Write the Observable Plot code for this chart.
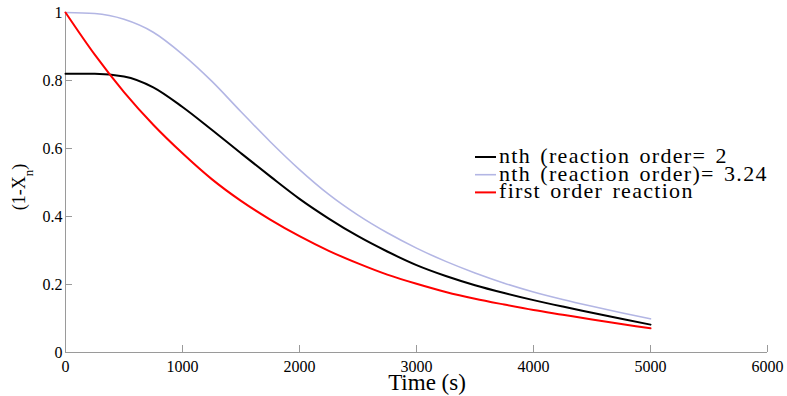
<!DOCTYPE html>
<html><head><meta charset="utf-8">
<script src="https://cdn.jsdelivr.net/npm/d3@7"></script>
<script src="https://cdn.jsdelivr.net/npm/@observablehq/plot@0.6"></script>
<style>html,body{margin:0;padding:0;background:#fff} svg{display:block}</style>
</head><body><div id="chart"></div>
<script>
const time = [0,250,500,750,1000,1250,1500,1750,2000,2250,2500,2750,3000,3250,3500,3750,4000,4250,4500,4750,5000];
const nthOrder2 = [0.820,0.820,0.812,0.780,0.722,0.655,0.586,0.518,0.452,0.394,0.342,0.297,0.257,0.225,0.198,0.175,0.154,0.135,0.117,0.099,0.082];
const nthOrder324 = [1.000,0.997,0.980,0.942,0.877,0.798,0.708,0.620,0.538,0.465,0.404,0.352,0.307,0.268,0.234,0.204,0.178,0.156,0.136,0.117,0.099];
const firstOrder = [1.000,0.876,0.766,0.670,0.586,0.510,0.446,0.391,0.342,0.299,0.262,0.229,0.202,0.178,0.158,0.141,0.125,0.111,0.097,0.084,0.071];
const xTicks = [0,1000,2000,3000,4000,5000,6000];
const yTicks = [0,0.2,0.4,0.6,0.8,1];
const seriesNames = ["nth (reaction order= 2","nth (reaction order)= 3.24","first order reaction"];
const seriesColors = ["#000000","#b3b6e4","#ff0000"];
const seriesWidths = [2,1.6,2];

const seriesValues = [nthOrder2, nthOrder324, firstOrder];
const rows = [];
seriesValues.forEach((vals, s) => vals.forEach((v, i) => rows.push({series: seriesNames[s], t: time[i], v})));

const serif = "Liberation Serif";
const axisGray = "#9a9a9a";
const chart = Plot.plot({
  width: 787, height: 396,
  marginLeft: 65, marginRight: 20, marginTop: 12, marginBottom: 44,
  x: {domain: [0, 6000]},
  y: {domain: [0, 1]},
  style: {fontFamily: serif, fontSize: "16px", background: "#fff", color: "#000"},
  marks: [
    Plot.ruleX([0], {stroke: axisGray, strokeWidth: 1}),
    Plot.ruleY([0], {stroke: axisGray, strokeWidth: 1}),
    Plot.axisX({ticks: xTicks, tickSize: -7, tickPadding: 15, stroke: axisGray, label: null, tickFormat: d => String(d), fontSize: 16, fontFamily: serif}),
    Plot.axisY({ticks: yTicks, tickSize: -7, tickPadding: 10, stroke: axisGray, label: null, tickFormat: d => String(d), fontSize: 16, fontFamily: serif}),
    ...seriesNames.map((name, s) => Plot.line(rows.filter(r => r.series === name), {x: "t", y: "v", stroke: seriesColors[s], strokeWidth: seriesWidths[s], curve: "monotone-x"}))
  ]
});
document.getElementById("chart").append(chart);

const svg = d3.select(chart);
svg.selectAll("text").style("font-family", serif);

svg.append("text")
  .attr("x", 427).attr("y", 390)
  .attr("text-anchor", "middle")
  .style("font-family", serif)
  .attr("font-size", 23)
  .attr("fill", "#000")
  .text("Time (s)");

const yl = svg.append("text")
  .attr("transform", "translate(25,187) rotate(-90)")
  .attr("text-anchor", "middle")
  .style("font-family", serif)
  .attr("font-size", 18)
  .attr("fill", "#000");
yl.append("tspan").text("(1-X");
yl.append("tspan").attr("baseline-shift", "sub").attr("font-size", 13).text("n");
yl.append("tspan").text(")");

const leg = svg.append("g");
seriesNames.forEach((name, s) => {
  const y = 157 + s * 17.7;
  leg.append("line").attr("x1", 475).attr("x2", 496).attr("y1", y).attr("y2", y)
    .attr("stroke", seriesColors[s]).attr("stroke-width", seriesWidths[s]);
  leg.append("text").attr("x", 499).attr("y", y + 6)
    .attr("text-anchor", "start")
    .style("font-family", serif)
    .attr("font-size", 22)
    .attr("letter-spacing", 1.3)
    .attr("word-spacing", 2.5)
    .attr("fill", "#000")
    .text(name);
});
</script>
</body></html>
